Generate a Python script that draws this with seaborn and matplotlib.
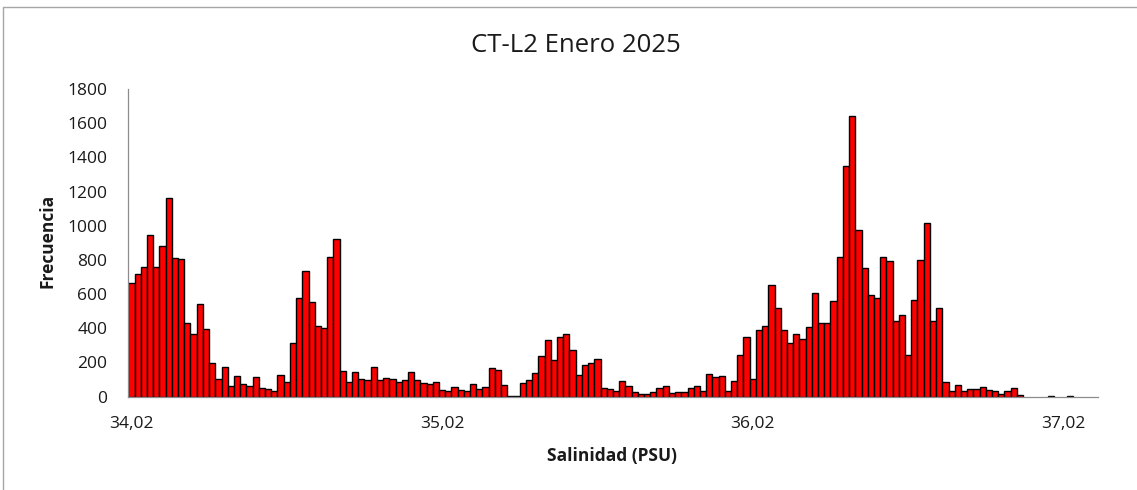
import numpy as np
import pandas as pd
import matplotlib
matplotlib.use("Agg")
import matplotlib.pyplot as plt
from matplotlib.lines import Line2D
import seaborn as sns

# frecuencias por clase de salinidad (ancho de clase 0,02 PSU, desde 34,02)
frecuencia = [
    663, 717, 756, 945, 760, 883, 1163, 811, 805, 433,
    366, 542, 396, 197, 102, 172, 64, 121, 76, 64,
    113, 51, 45, 31, 125, 84, 314, 577, 733, 551,
    411, 399, 818, 921, 150, 84, 145, 103, 95, 175,
    97, 109, 103, 84, 97, 146, 97, 80, 72, 82,
    39, 31, 58, 40, 31, 74, 45, 58, 164, 156,
    70, 2, 2, 78, 97, 138, 236, 331, 215, 351,
    368, 271, 123, 187, 199, 220, 52, 43, 33, 90,
    60, 29, 16, 16, 29, 49, 60, 21, 29, 29,
    49, 60, 35, 129, 113, 119, 30, 89, 243, 351,
    103, 392, 415, 655, 520, 390, 314, 366, 337, 405,
    606, 428, 428, 561, 814, 1350, 1642, 976, 752, 594,
    575, 814, 795, 444, 477, 245, 567, 799, 1013, 440,
    520, 84, 31, 68, 35, 45, 45, 55, 39, 35,
    16, 35, 49, 6, 0, 0, 0, 0, 4, 0,
    0, 4, 0, 0, 0, 0,
]
etiquetas_x = ["34,02", "35,02", "36,02", "37,02"]
pos_etiquetas = [0, 50, 100, 150]
ticks_y = [0, 200, 400, 600, 800, 1000, 1200, 1400, 1600, 1800]
titulo = "CT-L2 Enero 2025"

sns.set_style("white")
plt.rcParams["font.family"] = ["Open Sans", "DejaVu Sans"]

W, H = 1137, 490
n = len(frecuencia)
ancho_barra = 6.214

df = pd.DataFrame({"clase": list(range(n)), "frecuencia": frecuencia})
# las clases vacías no se dibujan
df["altura"] = df["frecuencia"].where(df["frecuencia"] > 0)

fig = plt.figure(figsize=(W / 100, H / 100), dpi=100)
ax = fig.add_axes([128.3 / W, 1 - 396.5 / H, n * ancho_barra / W, 307.5 / H])

sns.barplot(data=df, x="clase", y="altura", order=list(range(n)),
            color="#FF0000", saturation=1, width=1.0,
            edgecolor="black", linewidth=1.0, errorbar=None, ax=ax)

ax.set_xlim(-0.5, n - 0.5)
ax.set_ylim(0, 1800)
ax.set_xticks(pos_etiquetas, etiquetas_x)
ax.set_yticks(ticks_y)
ax.set_xlabel("")
ax.set_ylabel("")

gris = "#8c8c8c"
for lado in ["top", "right"]:
    ax.spines[lado].set_visible(False)
for lado in ["left", "bottom"]:
    ax.spines[lado].set_color(gris)
    ax.spines[lado].set_linewidth(0.9)

ax.tick_params(axis="x", length=0, pad=14, labelsize=12.5, labelcolor="#1a1a1a")
ax.tick_params(axis="y", length=4, width=0.8, color=gris, direction="out",
               pad=11, labelsize=12.5, labelcolor="#1a1a1a")

fig.text(576 / W, 1 - 45 / H, titulo, ha="center", va="center",
         fontsize=18.5, color="#1a1a1a")
fig.text(612 / W, 1 - 456 / H, "Salinidad (PSU)", ha="center", va="center",
         fontsize=12.5, fontweight="bold", color="#1a1a1a")
fig.text(47 / W, 1 - 241 / H, "Frecuencia", ha="center", va="center",
         rotation=90, fontsize=12.5, fontweight="bold", color="#1a1a1a")

# marco del área del gráfico
fig.add_artist(Line2D([3 / W, 1], [1 - 7.5 / H, 1 - 7.5 / H],
                      transform=fig.transFigure, color="#a6a6a6", lw=1))
fig.add_artist(Line2D([3 / W, 3 / W], [0, 1 - 7.5 / H],
                      transform=fig.transFigure, color="#a6a6a6", lw=1))

fig.savefig("out.png", dpi=100)
